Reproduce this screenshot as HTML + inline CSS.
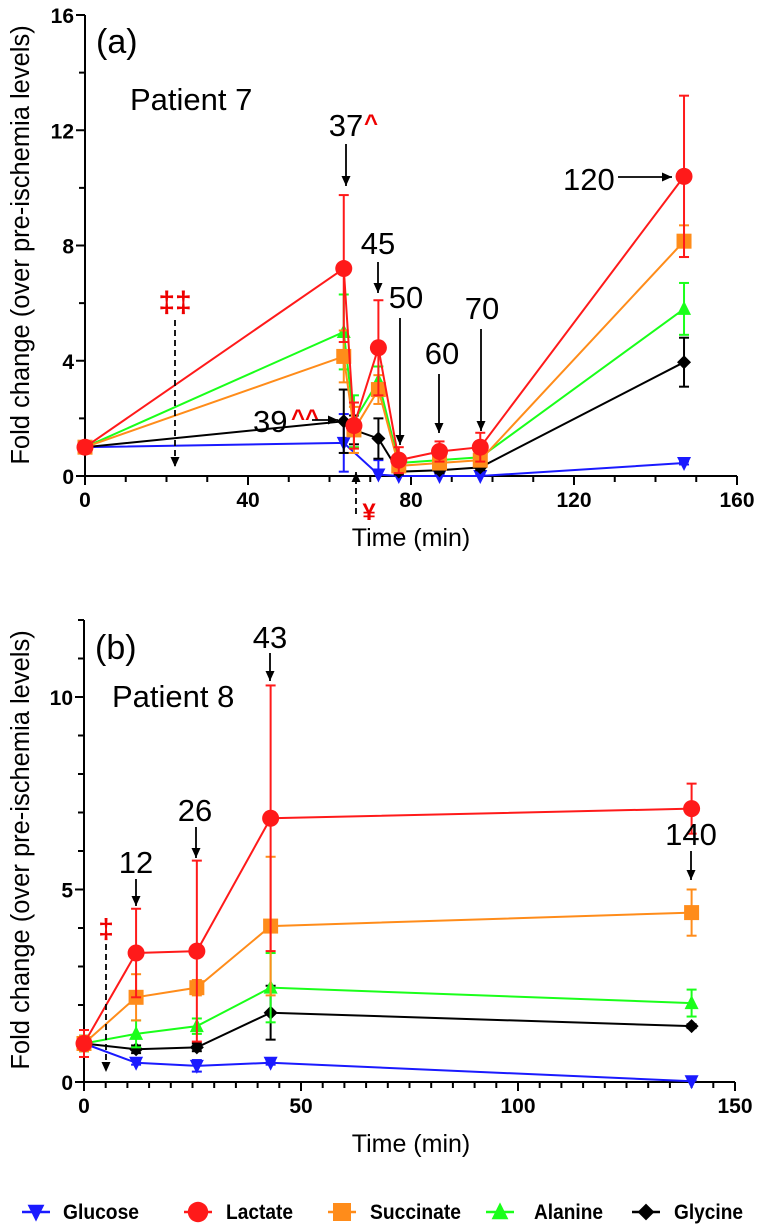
<!DOCTYPE html>
<html><head><meta charset="utf-8"><style>
body{margin:0;background:#fff}
svg{display:block;font-family:"Liberation Sans",Arial,sans-serif}
.tk{font-weight:bold;font-size:21px}
</style></head><body>
<svg id="s" width="758" height="1227"></svg>
<script>
// Panel A data
const timeA=[0,63.5,66,72,77,87,97,147];
const glucoseA=[1,1.15,null,0.05,0.0,0.0,0.0,0.45];
const lactateA=[1,7.2,1.75,4.45,0.55,0.85,1.0,10.4];
const succinateA=[1,4.15,1.6,3.0,0.35,0.45,0.55,8.15];
const alanineA=[1,5.0,1.9,3.3,0.45,0.55,0.65,5.8];
const glycineA=[1,1.9,1.6,1.3,0.15,0.2,0.3,3.95];
const lactateErrA=[0.2,2.55,0.8,1.65,0.45,0.35,0.5,2.8];
const succinateErrA=[0.1,0.9,0.8,0.5,0.2,0.2,0.2,0.55];
const alanineErrA=[0.1,1.3,0.9,0.5,0.2,0.2,0.2,0.9];
const glycineErrA=[0.1,1.1,0.5,0.7,0.1,0.1,0.1,0.85];
const glucoseErrA=[0.1,1.0,0,0.5,0.05,0.05,0.05,0.05];
const yTicksA=[0,4,8,12,16];
const xTicksA=[0,40,80,120,160];
// Panel B data
const timeB=[0,12,26,43,140];
const glucoseB=[1,0.5,0.42,0.5,0.02];
const lactateB=[1,3.35,3.4,6.85,7.1];
const succinateB=[1,2.2,2.45,4.05,4.4];
const alanineB=[1,1.25,1.45,2.45,2.05];
const glycineB=[1,0.85,0.9,1.8,1.45];
const lactateErrB=[0.35,1.15,2.35,3.45,0.65];
const succinateErrB=[0.2,0.6,0.2,1.8,0.6];
const alanineErrB=[0.2,0.35,0.2,0.9,0.35];
const glycineErrB=[0.2,0.1,0.1,0.7,0.05];
const glucoseErrB=[0.1,0.05,0.15,0.05,0.02];
const yTicksB=[0,5,10];
const xTicksB=[0,50,100,150];

const NS="http://www.w3.org/2000/svg",S=document.getElementById('s');
function el(t,a,p){const e=document.createElementNS(NS,t);for(const k in a)e.setAttribute(k,a[k]);(p||S).appendChild(e);return e;}
function txt(x,y,s,a,p){const e=el('text',Object.assign({x:x,y:y},a),p);e.textContent=s;return e;}

function panel(cfg){
  const g=el('g',{});
  
  
  const X=v=>cfg.x0+(v-cfg.xmin)/(cfg.xmax-cfg.xmin)*(cfg.x1-cfg.x0);
  const Y=v=>cfg.y0-(v-cfg.ymin)/(cfg.ymax-cfg.ymin)*(cfg.y0-cfg.y1);
  const ax=el('g',{stroke:'#000','stroke-width':2},g);
  
  
  el('line',{x1:cfg.x0,y1:cfg.y0,x2:cfg.x1,y2:cfg.y0},ax);
  el('line',{x1:cfg.x0,y1:cfg.y0,x2:cfg.x0,y2:cfg.y1},ax);
  for(let v=cfg.xmin;v<=cfg.xmax+1e-6;v+=cfg.xminor){el('line',{x1:X(v),x2:X(v),y1:cfg.y0,y2:cfg.y0+(cfg.xTicks.includes(v)?9:6)},ax);}
  for(let v=cfg.ymin;v<=cfg.ymax+1e-6;v+=cfg.yminor){el('line',{y1:Y(v),y2:Y(v),x1:cfg.x0,x2:cfg.x0-(cfg.yTicks.includes(v)?9:6)},ax);}
  cfg.xTicks.forEach(v=>{const t=txt(X(v),cfg.y0+31,v,{class:'tk','text-anchor':'middle'},g);});
  cfg.yTicks.forEach(v=>{const t=txt(cfg.x0-11,Y(v)+8,v,{class:'tk','text-anchor':'end'},g);});
  const xt=txt(cfg.xtx,cfg.y0+70,'Time (min)',{'font-size':25,'text-anchor':'middle'},g);
  
  const yt=txt(0,0,'Fold change (over pre-ischemia levels)',{'font-size':25.5,'text-anchor':'middle',transform:`translate(29,${cfg.ytc}) rotate(-90)`},g);
  
  cfg.series.forEach(s=>{
    const sg=el('g',{},g);
    
    
    const pts=[];
    s.v.forEach((v,i)=>{if(v===null)return;const x=X(cfg.t[i]);const e=s.e[i];pts.push(x+','+Y(v));
      if(e>0){
      el('line',{x1:x,x2:x,y1:Y(v+e),y2:Y(Math.max(v-e,cfg.ymin)),stroke:s.c,'stroke-width':2},sg);
      el('line',{x1:x-5,x2:x+5,y1:Y(v+e),y2:Y(v+e),stroke:s.c,'stroke-width':2},sg);
      if(v-e>cfg.ymin)el('line',{x1:x-5,x2:x+5,y1:Y(v-e),y2:Y(v-e),stroke:s.c,'stroke-width':2},sg);}
    });
    el('polyline',{points:pts.join(' '),fill:'none',stroke:s.c,'stroke-width':2},sg);
    s.v.forEach((v,i)=>{if(v===null)return;const m=marker(s.m,X(cfg.t[i]),Y(v),s.c,sg,1);});
  });
  return {g,X,Y};
}
function marker(m,x,y,c,p,k){
  if(m==='circle')return el('circle',{cx:x,cy:y,r:8.5*k,fill:c},p);
  if(m==='square')return el('rect',{x:x-7.5*k,y:y-7.5*k,width:15*k,height:15*k,fill:c},p);
  if(m==='up')return el('polygon',{points:`${x},${y-8*k} ${x-7*k},${y+6*k} ${x+7*k},${y+6*k}`,fill:c},p);
  if(m==='down')return el('polygon',{points:`${x},${y+8*k} ${x-7*k},${y-6*k} ${x+7*k},${y-6*k}`,fill:c},p);
  return el('polygon',{points:`${x},${y-7*k} ${x+7*k},${y} ${x},${y+7*k} ${x-7*k},${y}`,fill:c},p);
}
const col={glu:'#1a1aff',lac:'#ff1a1a',suc:'#ff8c1a',ala:'#1aff1a',gly:'#000'};
function ser(glu,lac,suc,ala,gly,eg,el_,es,ea,ey){return [
 {name:'glucose',v:glu,e:eg,c:col.glu,m:'down'},
 {name:'glycine',v:gly,e:ey,c:col.gly,m:'diamond'},
 {name:'alanine',v:ala,e:ea,c:col.ala,m:'up'},
 {name:'succinate',v:suc,e:es,c:col.suc,m:'square'},
 {name:'lactate',v:lac,e:el_,c:col.lac,m:'circle'}];}

panel({name:'panel-a',x0:85,x1:737,y0:476,y1:15,xmin:0,xmax:160,ymin:0,ymax:16,xminor:10,yminor:2,xTicks:xTicksA,yTicks:yTicksA,t:timeA,xtx:411,ytc:245,
 series:ser(glucoseA,lactateA,succinateA,alanineA,glycineA,glucoseErrA,lactateErrA,succinateErrA,alanineErrA,glycineErrA)});
panel({name:'panel-b',x0:84,x1:735,y0:1082,y1:620,xmin:0,xmax:150,ymin:0,ymax:12,xminor:5,yminor:1,xTicks:xTicksB,yTicks:yTicksB,t:timeB,xtx:411,ytc:850,
 series:ser(glucoseB,lactateB,succinateB,alanineB,glycineB,glucoseErrB,lactateErrB,succinateErrB,alanineErrB,glycineErrB)});

function arrow(x1,y1,x2,y2,dash,name){
  const g=el('g',{});
  el('line',{x1,y1,x2,y2,stroke:'#000','stroke-width':1.8,'stroke-dasharray':dash?'6,4':'none'},g);
  const a=Math.atan2(y2-y1,x2-x1),L=10,W=4.5;
  const bx=x2-L*Math.cos(a),by=y2-L*Math.sin(a);
  el('polygon',{points:`${x2},${y2} ${bx+W*Math.sin(a)},${by-W*Math.cos(a)} ${bx-W*Math.sin(a)},${by+W*Math.cos(a)}`,fill:'#000'},g);
}
function label(x,y,s,sz,c,name,anchor){const a={'font-size':sz,fill:c||'#000','text-anchor':anchor||'middle'};if(c==='#e00')a['font-weight']='bold';const t=txt(x,y,s,a);return t;}
// Panel A annotations
label(96,53,'(a)',34,'#000','panel-a-label','start');
label(130,110,'Patient 7',31,'#000','patient-7-label','start');
label(346,136,'37',31,'#000','annotation-37','middle');
label(364,131,'^',24,'#e00','annotation-37-mark','start');
arrow(346,144,346,186,false,'arrow-37');
label(378,254,'45',31,'#000','annotation-45','middle');
arrow(378,262,378,293,false,'arrow-45');
label(406,308,'50',31,'#000','annotation-50','middle');
arrow(400,318,400,445,false,'arrow-50');
label(442,364,'60',31,'#000','annotation-60','middle');
arrow(439,374,439,433,false,'arrow-60');
label(482,319,'70',31,'#000','annotation-70','middle');
arrow(481,329,481,431,false,'arrow-70');
label(563,190,'120',31,'#000','annotation-120','start');
arrow(618,177,672,177,false,'arrow-120');
label(253,432,'39',31,'#000','annotation-39','start');
label(291,426,'^^',24,'#e00','annotation-39-mark','start');
arrow(312,420,338,420,false,'arrow-39');
label(175,312,'‡‡',30,'#e00','double-dagger-a','middle');
arrow(175,320,175,467,true,'dashed-arrow-a');
arrow(356,514,356,472,true,'dashed-arrow-yen');
label(369,520,'¥',24,'#e00','yen-mark','middle');
// Panel B annotations
label(95,659,'(b)',34,'#000','panel-b-label','start');
label(112,707,'Patient 8',31,'#000','patient-8-label','start');
label(136,873,'12',31,'#000','annotation-12','middle');
arrow(136,879,136,906,false,'arrow-12');
label(195,821,'26',31,'#000','annotation-26','middle');
arrow(196,827,196,858,false,'arrow-26');
label(270,648,'43',31,'#000','annotation-43','middle');
arrow(270,653,270,681,false,'arrow-43');
label(691,845,'140',31,'#000','annotation-140','middle');
arrow(691,851,691,880,false,'arrow-140');
label(106,938,'‡',28,'#e00','double-dagger-b','middle');
arrow(106,944,106,1072,true,'dashed-arrow-b');
// Legend
const legend=el('g',{});
const leg=[['Glucose','down',col.glu,36,63,76],['Lactate','circle',col.lac,198,226,67],['Succinate','square',col.suc,342,370,91],['Alanine','up',col.ala,500,534,69],['Glycine','diamond',col.gly,646,674,69]];
leg.forEach(([n,m,c,x,tx,w])=>{
  const g=el('g',{},legend);
  el('line',{x1:x-14,x2:x+14,y1:1212,y2:1212,stroke:c,'stroke-width':2.5},g);
  marker(m,x,1212,c,g,1.2);
  txt(tx,1219,n,{'font-size':21,'font-weight':'bold',textLength:w,lengthAdjust:'spacingAndGlyphs'},g);
});
</script>
</body></html>
